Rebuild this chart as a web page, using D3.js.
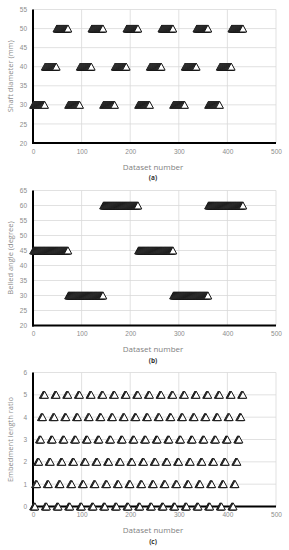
<!DOCTYPE html>
<html>
<head>
<meta charset="utf-8">
<script src="https://cdn.jsdelivr.net/npm/d3@7"></script>
<style>
  body { margin: 0; background: #fff; }
  svg { display: block; font-family: "Open Sans", "Noto Sans", sans-serif; }
</style>
</head>
<body>
<div id="chart"></div>
<script>
// dataset numbers run 1..432; each factor is stored as runs [value, count]
const datasetCount = 432;
const shaftDiameterRuns = [
  [30, 24], [40, 24], [50, 24], [30, 24], [40, 24], [50, 24],
  [30, 24], [40, 24], [50, 24], [30, 24], [40, 24], [50, 24],
  [30, 24], [40, 24], [50, 24], [30, 24], [40, 24], [50, 24]
];
const belledAngleRuns = [[45, 72], [30, 72], [60, 72], [45, 72], [30, 72], [60, 72]];
const embedmentLevels = [0, 1, 2, 3, 4, 5];
const embedmentRunLength = 4;

const xTicks = [0, 100, 200, 300, 400, 500];
const diameterTicks = [20, 25, 30, 35, 40, 45, 50, 55];
const angleTicks = [20, 25, 30, 35, 40, 45, 50, 55, 60, 65];
const ratioTicks = [0, 1, 2, 3, 4, 5, 6];

function expandRuns(runs) {
  const out = [];
  runs.forEach(r => { for (let i = 0; i < r[1]; i++) out.push(r[0]); });
  return out;
}

const diameterValues = expandRuns(shaftDiameterRuns);
const angleValues = expandRuns(belledAngleRuns);
let embedmentValues = [];
while (embedmentValues.length < datasetCount) {
  embedmentValues = embedmentValues.concat(expandRuns(embedmentLevels.map(v => [v, embedmentRunLength])));
}

const width = 289, height = 550;
const svg = d3.select("#chart").append("svg")
  .attr("width", width)
  .attr("height", height)
  .attr("viewBox", [0, 0, width, height]);

const x = d3.scaleLinear().domain([0, 500]).range([33, 276]);

const panels = [
  {values: diameterValues, ticks: diameterTicks, top: 9.5, bottom: 143, label: "Shaft diameter (mm)", tag: "(a)"},
  {values: angleValues, ticks: angleTicks, top: 190.5, bottom: 325.5, label: "Belled angle (degree)", tag: "(b)"},
  {values: embedmentValues, ticks: ratioTicks, top: 372.5, bottom: 506.5, label: "Embedment length ratio", tag: "(c)"}
];

const tri = "M0,-3.6L3.8,3.4L-3.8,3.4Z";
const fmt = d3.format("d");

panels.forEach(p => {
  const y = d3.scaleLinear()
    .domain(d3.extent(p.ticks))
    .range([p.bottom, p.top]);
  const g = svg.append("g");

  // gridlines
  g.append("g")
    .attr("stroke", "#d9d9d9")
    .attr("stroke-width", 0.8)
    .selectAll("line.h")
    .data(p.ticks)
    .join("line")
    .attr("x1", x(0)).attr("x2", x(500))
    .attr("y1", d => y(d)).attr("y2", d => y(d));
  g.append("g")
    .attr("stroke", "#d9d9d9")
    .attr("stroke-width", 0.8)
    .selectAll("line")
    .data(xTicks.slice(1))
    .join("line")
    .attr("x1", d => x(d)).attr("x2", d => x(d))
    .attr("y1", y.range()[1]).attr("y2", y.range()[0]);

  // axes (no tick marks, Excel style)
  const yAxis = d3.axisLeft(y).tickValues(p.ticks).tickFormat(fmt).tickSize(0).tickPadding(6);
  const xAxis = d3.axisBottom(x).tickValues(xTicks).tickFormat(fmt).tickSize(0).tickPadding(6);

  const ya = g.append("g").attr("transform", `translate(${x(0)},0)`).call(yAxis);
  const xa = g.append("g").attr("transform", `translate(0,${p.bottom})`).call(xAxis);
  [ya, xa].forEach(a => {
    a.select(".domain").remove();
    a.selectAll("text")
      .attr("fill", "#8c8c8c")
      .style("font-size", "6.5px");
  });

  g.append("line")
    .attr("x1", x(0)).attr("x2", x(0))
    .attr("y1", p.top).attr("y2", p.bottom + 1)
    .attr("stroke", "#000").attr("stroke-width", 2);
  g.append("line")
    .attr("x1", x(0) - 1).attr("x2", x(500))
    .attr("y1", p.bottom).attr("y2", p.bottom)
    .attr("stroke", "#000").attr("stroke-width", 2);

  // markers, drawn in dataset order so they overlap like the original
  g.append("g")
    .attr("fill", "#fff")
    .attr("stroke", "#1a1a1a")
    .attr("stroke-width", 1)
    .selectAll("path")
    .data(p.values)
    .join("path")
    .attr("d", tri)
    .attr("transform", (d, i) => `translate(${x(i + 1)},${y(d)})`);

  g.append("text")
    .attr("transform", `translate(10,${(p.top + p.bottom) / 2}) rotate(-90)`)
    .attr("text-anchor", "middle")
    .attr("dominant-baseline", "central")
    .attr("fill", "#8c8c8c")
    .style("font-size", "7.5px")
    .text(p.label);

  g.append("text")
    .attr("x", 153)
    .attr("y", p.bottom + 23)
    .attr("text-anchor", "middle")
    .attr("dominant-baseline", "central")
    .attr("fill", "#7f7f7f")
    .style("font-size", "8px")
    .text("Dataset number");

  g.append("text")
    .attr("x", 153)
    .attr("y", p.bottom + 34.5)
    .attr("text-anchor", "middle")
    .attr("dominant-baseline", "central")
    .attr("fill", "#333")
    .style("font-size", "6.5px")
    .style("font-weight", "bold")
    .text(p.tag);
});
</script>
</body>
</html>
